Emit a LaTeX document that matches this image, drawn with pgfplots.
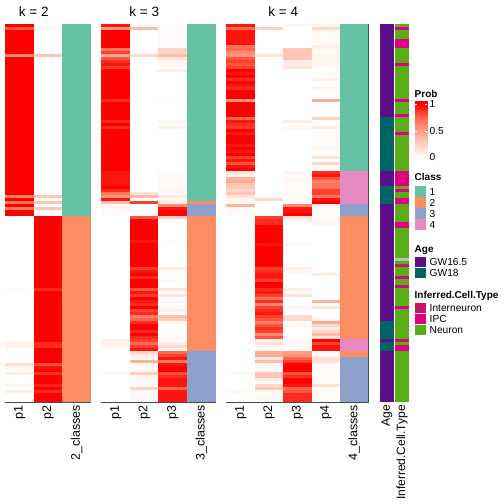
\documentclass[border=0pt]{standalone}
\usepackage{fontspec}
\setmainfont{Liberation Sans}
\usepackage{pgfplots}
\usepackage{pgfplotstable}
\pgfplotsset{compat=1.18}

\definecolor{cA}{RGB}{102,194,165}
\definecolor{cB}{RGB}{252,141,98}
\definecolor{cC}{RGB}{141,160,203}
\definecolor{cD}{RGB}{231,138,195}
\definecolor{gwA}{RGB}{91,13,138}
\definecolor{gwB}{RGB}{0,100,100}
\definecolor{ctIN}{RGB}{199,21,105}
\definecolor{ctIPC}{RGB}{222,0,135}
\definecolor{ctN}{RGB}{91,173,23}
\definecolor{ctNA}{RGB}{190,190,190}

\pgfplotsset{
  colormap={probmap}{rgb255=(255,255,255) rgb255=(255,208,192) rgb255=(255,160,134) rgb255=(255,105,80) rgb255=(255,0,0)},
}

\pgfdeclareplotmark{hmcell}{\pgfpathrectangle{\pgfpoint{-14.3pt}{-1.55pt}}{\pgfpoint{28.6pt}{3.1pt}}\pgfusepathqfill}
\pgfdeclareplotmark{ancell}{\pgfpathrectangle{\pgfpoint{-6.85pt}{-1.55pt}}{\pgfpoint{13.7pt}{3.1pt}}\pgfusepathqfill}

\pgfplotsset{
  hmaxis/.style={anchor=north west, y=3pt, y dir=reverse, ymin=0.5, ymax=126.5, xmin=0.5,
    ytick=\empty, major tick length=0pt, tick style={draw=none}, clip=false,
    point meta min=0, point meta max=1, axis on top,
    axis line style={draw=black!70, line width=0.7pt},
    xticklabel style={rotate=90, anchor=east, inner sep=0pt, font=\fontsize{12.5}{14}\selectfont},
    xticklabel shift=3pt},
  pcol/.style={scatter, only marks, mark=hmcell, point meta=explicit, colormap name=probmap,
    scatter/use mapped color={fill=mapped color}},
  ccol/.style={scatter, only marks, mark=hmcell, point meta=explicit symbolic,
    scatter/classes={1={fill=cA},2={fill=cB},3={fill=cC},4={fill=cD}}},
}
\tikzset{ktitle/.style={anchor=base, inner sep=0pt, font=\fontsize{13.5}{15}\selectfont},
         lt/.style={anchor=base west, inner sep=0pt, font=\bfseries\fontsize{10}{12}\selectfont},
         ll/.style={anchor=west, inner sep=0pt, font=\fontsize{10.2}{12}\selectfont}}

% r: row; a*: k=2; b*: k=3; c*: k=4; ag: age (1 GW16.5, 2 GW18); ct: 0 NA, 1 Interneuron, 2 IPC, 3 Neuron
\pgfplotstableread{
r a1 a2 ac b1 b2 b3 bc c1 c2 c3 c4 cc ag ct
1 1 0 1 0.95 0 0.02 1 0.95 0 0.05 0.05 1 1 3
2 0.8 0.05 1 0.55 0.35 0.02 1 0.75 0.25 0 0.2 1 1 2
3 1 0 1 1 0 0.02 1 0.95 0 0 0.03 1 1 3
4 1 0 1 1 0 0.02 1 0.95 0 0 0.03 1 1 3
5 1 0 1 1 0 0.02 1 0.95 0 0 0.03 1 1 3
6 1 0 1 1 0 0.02 1 0.95 0 0 0.03 1 1 2
7 1 0 1 1 0 0.02 1 0.95 0 0 0.03 1 1 2
8 1 0 1 1 0 0.02 1 0.7 0 0 0.1 1 1 2
9 1 0 1 0.7 0 0.25 1 0.75 0 0.3 0.05 1 1 3
10 1 0 1 0.85 0 0.2 1 0.6 0 0.3 0.03 1 1 3
11 0.6 0.3 1 0.45 0.2 0.35 1 0.55 0.15 0.3 0.05 1 1 3
12 1 0 1 0.8 0 0.15 1 0.8 0 0.3 0.05 1 1 3
13 1 0 1 0.9 0 0.05 1 0.85 0 0.1 0.05 1 1 3
14 1 0 1 0.95 0 0.05 1 0.8 0 0.1 0.05 1 1 2
15 1 0 1 0.85 0 0 1 0.85 0 0.15 0 1 1 3
16 1 0 1 1 0 0.1 1 1 0 0 0 1 1 3
17 1 0 1 1 0 0 1 0.95 0 0 0.03 1 1 3
18 1 0 1 1 0 0 1 1 0 0 0 1 1 3
19 1 0 1 1 0 0 1 0.9 0 0 0.08 1 1 3
20 1 0 1 1 0 0 1 1 0 0 0 1 1 3
21 1 0 1 1 0 0 1 0.95 0 0 0 1 1 3
22 1 0 1 1 0 0 1 0.9 0 0 0.05 1 1 3
23 1 0 1 1 0 0 1 1 0 0 0 1 1 3
24 1 0 1 1 0 0 1 1 0 0 0 1 1 3
25 1 0 1 1 0 0 1 1 0 0 0 1 1 3
26 1 0 1 0.9 0 0.03 1 0.55 0 0 0.45 1 1 2
27 1 0 1 1 0 0 1 1 0 0 0 1 1 3
28 1 0 1 1 0 0 1 1 0 0 0 1 1 3
29 1 0 1 1 0 0 1 1 0 0 0 1 1 3
30 1 0 1 1 0 0 1 1 0 0 0 1 1 3
31 1 0 1 1 0 0 1 1 0 0 0 1 1 2
32 1 0 1 1 0 0 1 0.75 0 0 0.25 1 2 3
33 1 0 1 0.9 0 0.05 1 0.95 0 0.1 0 1 2 3
34 1 0 1 1 0 0 1 0.9 0 0 0 1 2 3
35 1 0 1 0.9 0 0.07 1 0.85 0 0.05 0.1 1 2 3
36 1 0 1 1 0 0 1 1 0 0 0 1 2 3
37 1 0 1 1 0 0 1 0.95 0 0 0.03 1 2 2
38 1 0 1 1 0 0 1 1 0 0 0 1 2 3
39 1 0 1 1 0 0 1 1 0 0 0 1 2 3
40 1 0 1 1 0 0 1 1 0 0 0.03 1 2 3
41 1 0 1 1 0 0 1 0.95 0 0 0 1 2 3
42 1 0 1 1 0 0 1 1 0 0 0.05 1 2 3
43 1 0 1 1 0 0 1 0.95 0 0 0 1 2 3
44 1 0 1 1 0 0 1 1 0 0 0 1 2 3
45 1 0 1 1 0 0 1 0.85 0 0 0.15 1 2 3
46 1 0 1 1 0 0 1 0.95 0 0 0 1 2 3
47 1 0 1 1 0 0 1 0.8 0 0 0.2 1 2 3
48 1 0 1 1 0 0 1 0.95 0 0 0.05 1 2 3
49 1 0 1 1 0 0 1 1 0 0 0 1 2 3
50 1 0 1 0.95 0 0.03 1 0.15 0 0.05 0.9 4 1 2
51 1 0 1 0.95 0 0.03 1 0.05 0 0.02 0.95 4 1 2
52 1 0 1 0.95 0 0.03 1 0.4 0 0.05 0.8 4 1 2
53 1 0 1 0.95 0 0.03 1 0.45 0 0.05 0.65 4 1 2
54 1 0 1 0.95 0 0.03 1 0.3 0 0.02 0.7 4 1 2
55 1 0 1 1 0 0.03 1 0.3 0 0.02 0.7 4 2 3
56 1 0 1 0.9 0 0.05 1 0.2 0 0.02 0.85 4 2 2
57 1 0 1 0.7 0.15 0.03 1 0.3 0 0.02 0.85 4 2 3
58 0.65 0.3 1 0.55 0.35 0.1 1 0.15 0 0.02 0.7 4 2 3
59 1 0 1 0.95 0 0.05 1 0.05 0.2 0.02 0.95 4 2 2
60 0.7 0.3 1 0.3 0.85 0.1 2 0.03 0 0.02 1 4 2 2
61 1 0 1 0.05 0 0.6 3 0.4 0 0.6 0.05 3 1 3
62 0.65 0.3 1 0.03 0 0.95 3 0.03 0 0.95 0.02 3 1 3
63 1 0 1 0.03 0 1 3 0.03 0 0.95 0.02 3 1 3
64 1 0 1 0.03 0 1 3 0.03 0 1 0.02 3 1 3
65 0 1 2 0 0.8 0.25 2 0 0.85 0.15 0.02 2 1 3
66 0 1 2 0 1 0 2 0 0.9 0.05 0.05 2 1 3
67 0 1 2 0 1 0 2 0 0.9 0 0.05 2 1 2
68 0 1 2 0 1 0 2 0 1 0 0 2 1 2
69 0 1 2 0 1 0 2 0 1 0 0 2 1 3
70 0 1 2 0 1 0 2 0 1 0 0 2 1 3
71 0 1 2 0 1 0 2 0 1 0 0 2 1 3
72 0 1 2 0 1 0 2 0 1 0 0 2 1 3
73 0 1 2 0 0.95 0.03 2 0 1 0 0 2 1 3
74 0 1 2 0 1 0 2 0 0.95 0.05 0 2 1 3
75 0 1 2 0 1 0 2 0 1 0 0 2 1 3
76 0 1 2 0 1 0 2 0 1 0 0 2 1 3
77 0 1 2 0 1 0 2 0 1 0 0 2 1 3
78 0 1 2 0 1 0 2 0 1 0 0 2 1 3
79 0 1 2 0 1 0 2 0 1 0 0 2 1 0
80 0 1 2 0 1 0 2 0 1 0 0 2 1 3
81 0 1 2 0 1 0 2 0 1 0 0 2 1 1
82 0 1 2 0 0.85 0.1 2 0 0.85 0.1 0 2 1 3
83 0 1 2 0 0.95 0.03 2 0 0.9 0.05 0 2 1 3
84 0 1 2 0 1 0 2 0 0.95 0 0.1 2 1 3
85 0 1 2 0 0.9 0 2 0 0.95 0 0 2 1 2
86 0 1 2 0 1 0.03 2 0 0.85 0 0 2 1 3
87 0 1 2 0 1 0 2 0 1 0 0 2 1 3
88 0 1 2 0 1 0 2 0 1 0 0 2 1 2
89 0.03 0.9 2 0 0.8 0.15 2 0 0.9 0.1 0 2 1 3
90 0 1 2 0 0.95 0 2 0 0.95 0 0 2 1 3
91 0 1 2 0 0.85 0.15 2 0 0.85 0.15 0 2 1 3
92 0 1 2 0 1 0 2 0 0.7 0 0 2 1 3
93 0 1 2 0 0.95 0.05 2 0 0.9 0 0.4 2 1 3
94 0 1 2 0 0.9 0 2 0 0.6 0 0 2 1 3
95 0 1 2 0 1 0.03 2 0 0.85 0.05 0.15 2 1 2
96 0 1 2 0 0.85 0.1 2 0 0.9 0 0 2 1 3
97 0 1 2 0 0.9 0 2 0 0.95 0 0 2 1 3
98 0 1 2 0 0.65 0.35 2 0 0.85 0.2 0 2 1 3
99 0 1 2 0 0.75 0.25 2 0 0.8 0.2 0.05 2 1 3
100 0 1 2 0 0.9 0.05 2 0 0.65 0 0.45 2 2 3
101 0 1 2 0 1 0 2 0 0.8 0.05 0.2 2 2 3
102 0 1 2 0 1 0 2 0 0.9 0 0.1 2 2 3
103 0 1 2 0 0.9 0 2 0 0.85 0 0.2 2 2 3
104 0 1 2 0 1 0 2 0 0.6 0 0.35 2 2 3
105 0 1 2 0 0.9 0.03 2 0 0.8 0 0.15 2 2 3
106 0 1 2 0.08 0.85 0.03 2 0 0.08 0.03 1 4 1 1
107 0.08 0.9 2 0.08 0.75 0.1 2 0 0.15 0.03 0.85 4 2 3
108 0.08 0.9 2 0.05 0.85 0.2 2 0 0.05 0.03 0.95 4 2 2
109 0 1 2 0 0.95 0.05 2 0 0.03 0.03 0.95 4 2 2
110 0 1 2 0 0.2 0.75 3 0 0.45 0.5 0.03 2 1 3
111 0 1 2 0 0.1 0.85 3 0 0.45 0.55 0.03 2 1 3
112 0 1 2 0 0.05 0.95 3 0 0.1 0.75 0.15 3 1 3
113 0 1 2 0 0.4 0.65 3 0 0.35 0.85 0.15 3 1 3
114 0.18 0.8 2 0 0.03 0.95 3 0 0.05 1 0.03 3 1 3
115 0.05 0.95 2 0 0.03 1 3 0 0.03 1 0.03 3 1 3
116 0.03 1 2 0 0.05 1 3 0 0.03 1 0.03 3 1 3
117 0.1 0.88 2 0.05 0.25 0.8 3 0.05 0.3 0.8 0.03 3 1 3
118 0 1 2 0 0.05 0.9 3 0 0.3 0.9 0.03 3 1 3
119 0 1 2 0 0.03 0.95 3 0 0.1 1 0.03 3 1 3
120 0 1 2 0 0.03 0.95 3 0 0.03 1 0.03 3 1 3
121 0.05 0.92 2 0 0.03 0.95 3 0 0.2 0.95 0.15 3 1 3
122 0 1 2 0 0.25 0.75 3 0 0.3 0.75 0.03 3 1 3
123 0.1 0.9 2 0 0.03 0.95 3 0.05 0.05 0.8 0.03 3 1 3
124 0 1 2 0 0.03 0.95 3 0 0.03 0.9 0.03 3 1 3
125 0 1 2 0 0.03 0.95 3 0 0.03 0.9 0.03 3 1 3
126 0 1 2 0 0.03 0.95 3 0 0.03 0.9 0.03 3 1 3
}\data

\begin{document}
\begin{tikzpicture}
\useasboundingbox (0,0) rectangle (504pt,504pt);

% k = 2
\begin{axis}[hmaxis, at={(5.3pt,480pt)}, x=28.5pt, xmax=3.5,
  xtick={1,2,3}, xticklabels={p1,p2,2\_classes}]
\addplot[pcol] table[x expr=1, y=r, meta=a1]{\data};
\addplot[pcol] table[x expr=2, y=r, meta=a2]{\data};
\addplot[ccol] table[x expr=3, y=r, meta=ac]{\data};
\node[ktitle] at ([yshift=7.7pt]axis description cs:0.3333,1) {k = 2};
\end{axis}

% k = 3
\begin{axis}[hmaxis, at={(101.5pt,480pt)}, x=28.5pt, xmax=4.5,
  xtick={1,2,3,4}, xticklabels={p1,p2,p3,3\_classes}]
\addplot[pcol] table[x expr=1, y=r, meta=b1]{\data};
\addplot[pcol] table[x expr=2, y=r, meta=b2]{\data};
\addplot[pcol] table[x expr=3, y=r, meta=b3]{\data};
\addplot[ccol] table[x expr=4, y=r, meta=bc]{\data};
\node[ktitle] at ([yshift=7.7pt]axis description cs:0.375,1) {k = 3};
\end{axis}

% k = 4
\begin{axis}[hmaxis, at={(226.6pt,480pt)}, x=28.35pt, xmax=5.5,
  xtick={1,2,3,4,5}, xticklabels={p1,p2,p3,p4,4\_classes}]
\addplot[pcol] table[x expr=1, y=r, meta=c1]{\data};
\addplot[pcol] table[x expr=2, y=r, meta=c2]{\data};
\addplot[pcol] table[x expr=3, y=r, meta=c3]{\data};
\addplot[pcol] table[x expr=4, y=r, meta=c4]{\data};
\addplot[ccol] table[x expr=5, y=r, meta=cc]{\data};
\node[ktitle] at ([yshift=7.7pt]axis description cs:0.4,1) {k = 4};
\end{axis}

% annotations
\begin{axis}[hmaxis, at={(379.35pt,480pt)}, x=15.1pt, xmax=2.5,
  xtick={1,2}, xticklabels={Age,Inferred.Cell.Type}, axis line style={draw=none},
  xticklabel style={font=\fontsize{12}{14}\selectfont}]
\addplot[scatter, only marks, mark=ancell, point meta=explicit symbolic,
  scatter/classes={1={fill=gwA},2={fill=gwB}}] table[x expr=1, y=r, meta=ag]{\data};
\addplot[scatter, only marks, mark=ancell, point meta=explicit symbolic,
  scatter/classes={0={fill=ctNA},1={fill=ctIN},2={fill=ctIPC},3={fill=ctN}}] table[x expr=2, y=r, meta=ct]{\data};
\end{axis}

% Prob colour bar
\begin{axis}[at={(414.5pt,346pt)}, anchor=south west, scale only axis, width=12.5pt, height=56.5pt,
  xmin=0, xmax=1, ymin=-0.01, ymax=1.056, xtick=\empty,
  ytick={0,0.5,1}, yticklabels={0,0.5,1}, yticklabel pos=right, ytick pos=both,
  tick align=inside, major tick length=2.5pt, tick style={white, line width=0.6pt},
  axis line style={draw=none}, axis on top, colormap name=probmap,
  point meta min=0, point meta max=1,
  yticklabel style={font=\fontsize{10.2}{12}\selectfont, inner sep=0pt, xshift=2.5pt}]
\addplot[surf, shader=interp, mesh/cols=2, point meta=explicit] table[meta=m]{
x y m
0 -0.01 0
1 -0.01 0
0 0 0
1 0 0
0 0.25 0.25
1 0.25 0.25
0 0.5 0.5
1 0.5 0.5
0 0.75 0.75
1 0.75 0.75
0 1 1
1 1 1
0 1.056 1
1 1.056 1
};
\end{axis}

\node[lt] at (414.5pt,406.5pt) {Prob};

\node[lt] at (414.5pt,323pt) {Class};
\fill[cA] (414.5pt,317.5pt) rectangle (425.5pt,307.2pt);
\fill[cB] (414.5pt,306.5pt) rectangle (425.5pt,296.2pt);
\fill[cC] (414.5pt,295.5pt) rectangle (425.5pt,285.2pt);
\fill[cD] (414.5pt,284.5pt) rectangle (425.5pt,274.2pt);
\node[ll] at (429.5pt,312.35pt) {1};
\node[ll] at (429.5pt,301.35pt) {2};
\node[ll] at (429.5pt,290.35pt) {3};
\node[ll] at (429.5pt,279.35pt) {4};

\node[lt] at (414.5pt,251.5pt) {Age};
\fill[gwA] (414.5pt,247pt) rectangle (425.5pt,236.7pt);
\fill[gwB] (414.5pt,236pt) rectangle (425.5pt,225.7pt);
\node[ll] at (429.5pt,241.85pt) {GW16.5};
\node[ll] at (429.5pt,230.85pt) {GW18};

\node[lt] at (414.5pt,205pt) {Inferred.Cell.Type};
\fill[ctIN] (414.5pt,201pt) rectangle (425.5pt,190.7pt);
\fill[ctIPC] (414.5pt,190pt) rectangle (425.5pt,179.7pt);
\fill[ctN] (414.5pt,179pt) rectangle (425.5pt,168.7pt);
\node[ll] at (429.5pt,195.85pt) {Interneuron};
\node[ll] at (429.5pt,184.85pt) {IPC};
\node[ll] at (429.5pt,173.85pt) {Neuron};
\end{tikzpicture}
\end{document}
